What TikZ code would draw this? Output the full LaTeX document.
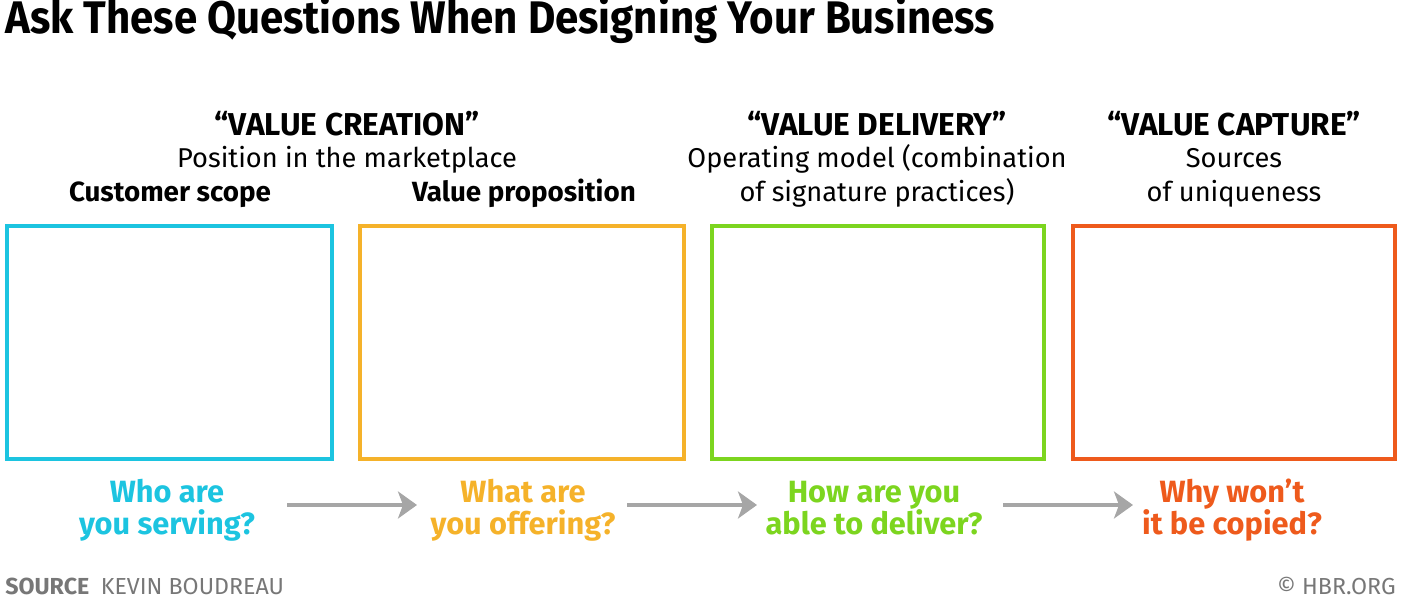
\documentclass[tikz,border=0pt]{standalone}
\usepackage{fontspec}
\setmainfont{Fira Sans}
\newfontfamily\titlefont{Fira Sans}[FakeStretch=0.92]
\usetikzlibrary{arrows.meta}
\definecolor{serveblue}{HTML}{1CC4E0}
\definecolor{offeryellow}{HTML}{F5B22A}
\definecolor{delivergreen}{HTML}{7CD51F}
\definecolor{copyorange}{HTML}{EE5A1C}
\definecolor{arrowgray}{HTML}{A6A6A6}
\definecolor{notegray}{HTML}{777777}
\begin{document}
\begin{tikzpicture}[x=0.02cm, y=-0.02cm,
    frame/.style={rectangle, draw, line width=0.08cm, minimum height=4.66cm},
    heading/.style={anchor=base, inner sep=0pt, font=\fontsize{18}{21}\selectfont\bfseries},
    info/.style={anchor=base, inner sep=0pt, font=\fontsize{15.5}{19.4}\selectfont},
    scope/.style={anchor=base, inner sep=0pt, font=\fontsize{15.8}{19.4}\selectfont\bfseries},
    question/.style={anchor=base, inner sep=0pt, font=\fontsize{17.5}{18.8}\selectfont\bfseries},
    flow/.style={-{Stealth[length=0.38cm, width=0.54cm, inset=0.1cm]}, line width=0.08cm, draw=arrowgray}]
    \useasboundingbox (0,0) rectangle (1401,601);

    % title
    \node[anchor=base west, inner sep=0pt, font=\titlefont\bfseries\fontsize{26}{30}\selectfont] (title) at (5,34) {Ask These Questions When Designing Your Business};

    % column headings
    \node[heading] (creation) at (347,136) {“VALUE CREATION”};
    \node[info] (creationsub) at (347,168) {Position in the marketplace};
    \node[scope] (custscope) at (170,202) {Customer scope};
    \node[scope] (valueprop) at (524,202) {Value proposition};

    \node[heading] (delivery) at (877,136) {“VALUE DELIVERY”};
    \node[info] (deliverysub) at (877,168) {Operating model (combination};
    \node[info] (deliverysubb) at (877,202) {of signature practices)};

    \node[heading] (capture) at (1234,136) {“VALUE CAPTURE”};
    \node[info] (capturesub) at (1234,168) {Sources};
    \node[info] (capturesubb) at (1234,202) {of uniqueness};

    % empty boxes
    \node[frame, draw=serveblue, minimum width=6.5cm] (box1) at (169.5,342.5) {};
    \node[frame, draw=offeryellow, minimum width=6.48cm] (box2) at (522,342.5) {};
    \node[frame, draw=delivergreen, minimum width=6.64cm] (box3) at (878,342.5) {};
    \node[frame, draw=copyorange, minimum width=6.44cm] (box4) at (1234,342.5) {};

    % questions
    \node[question, text=serveblue] (q1) at (167,502) {Who are};
    \node[question, text=serveblue] (q1b) at (167,535) {you serving?};
    \node[question, text=offeryellow] (q2) at (523,502) {What are};
    \node[question, text=offeryellow] (q2b) at (523,535) {you offering?};
    \node[question, text=delivergreen] (q3) at (874,502) {How are you};
    \node[question, text=delivergreen] (q3b) at (874,535) {able to deliver?};
    \node[question, text=copyorange] (q4) at (1232,502) {Why won’t};
    \node[question, text=copyorange] (q4b) at (1232,535) {it be copied?};

    % arrows between questions
    \coordinate (a1) at (287,505);
    \coordinate (b1) at (417,505);
    \coordinate (a2) at (627,505);
    \coordinate (b2) at (757,505);
    \coordinate (a3) at (1003,505);
    \coordinate (b3) at (1133,505);
    \draw[flow] (a1) -- (b1);
    \draw[flow] (a2) -- (b2);
    \draw[flow] (a3) -- (b3);

    % footer
    \node[anchor=base west, inner sep=0pt, text=notegray, font=\fontsize{13.2}{15}\selectfont] (source) at (5,594) {\textbf{SOURCE}\enspace KEVIN BOUDREAU};
    \node[anchor=base east, inner sep=0pt, text=notegray, font=\fontsize{13.2}{15}\selectfont] (hbr) at (1396,594) {© HBR.ORG};
\end{tikzpicture}
\end{document}
